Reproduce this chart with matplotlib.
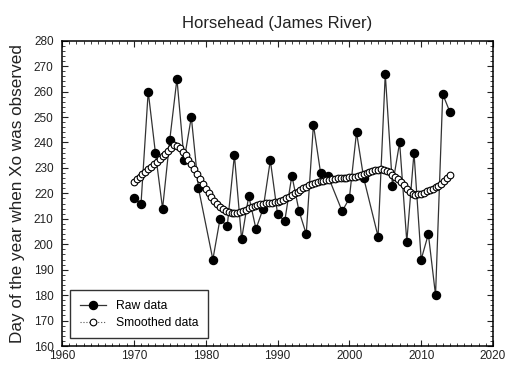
import numpy as np
import matplotlib
matplotlib.use('Agg')
import matplotlib.pyplot as plt
from matplotlib.ticker import MultipleLocator

plt.rcParams['font.family'] = ['Liberation Sans', 'DejaVu Sans']

# Observed day of year (no observations for 1980, 1998, 2003)
raw_years = [1970, 1971, 1972, 1973, 1974, 1975, 1976, 1977, 1978, 1979,
             1981, 1982, 1983, 1984, 1985, 1986, 1987, 1988, 1989, 1990,
             1991, 1992, 1993, 1994, 1995, 1996, 1997, 1999, 2000, 2001,
             2002, 2004, 2005, 2006, 2007, 2008, 2009, 2010, 2011, 2012,
             2013, 2014]
raw_days = [218, 216, 260, 236, 214, 241, 265, 233, 250, 222,
            194, 210, 207, 235, 202, 219, 206, 214, 233, 212,
            209, 227, 213, 204, 247, 228, 227, 213, 218, 244,
            226, 203, 267, 223, 240, 201, 236, 194, 204, 180,
            259, 252]

# Smoothed curve, sampled every 0.4 year from 1970 to 2014
smooth_years = np.arange(1970, 2014.01, 0.4)
smooth_days = [224.5, 225.5, 226.5, 227.5, 228.5, 229.5, 230.5, 231.5, 232.5, 233.5,
               234.5, 235.6, 236.8, 238.0, 238.9, 238.8, 237.8, 236.4, 235.0, 233.3,
               231.5, 229.6, 227.6, 225.6, 223.6, 221.7, 220.0, 218.4, 217.0, 215.7,
               214.6, 213.7, 213.0, 212.5, 212.2, 212.1, 212.2, 212.5, 213.0, 213.5,
               214.1, 214.6, 215.0, 215.4, 215.7, 215.9, 216.1, 216.2, 216.3, 216.5,
               216.8, 217.1, 217.5, 218.0, 218.6, 219.3, 220.0, 220.7, 221.4, 222.0,
               222.6, 223.1, 223.6, 224.0, 224.4, 224.7, 225.0, 225.2, 225.4, 225.6,
               225.8, 225.9, 226.0, 226.1, 226.2, 226.3, 226.4, 226.6, 226.9, 227.2,
               227.6, 228.0, 228.4, 228.8, 229.1, 229.3, 229.4, 229.2, 228.8, 228.2,
               227.4, 226.5, 225.5, 224.4, 223.2, 221.8, 220.6, 219.8, 219.5, 219.6,
               219.9, 220.3, 220.8, 221.3, 221.8, 222.4, 223.0, 223.7, 224.7, 225.9,
               227.3]

fig = plt.figure(figsize=(5.07, 3.65), dpi=100)
ax = fig.add_axes([0.1223, 0.052, 0.8501, 0.8365])

ax.plot(raw_years, raw_days, color='#333333', lw=0.9, marker='o', ms=5.8,
        mfc='black', mec='black', label='Raw data', zorder=2)
ax.plot(smooth_years, smooth_days, color='#555555', lw=0.8, ls=':', marker='o',
        ms=4.8, mfc='white', mec='black', mew=0.8, label='Smoothed data', zorder=3)

ax.set_xlim(1960, 2020)
ax.set_ylim(160, 280)
ax.xaxis.set_major_locator(MultipleLocator(10))
ax.xaxis.set_minor_locator(MultipleLocator(1))
ax.yaxis.set_major_locator(MultipleLocator(10))
ax.yaxis.set_minor_locator(MultipleLocator(2))
ax.tick_params(which='both', direction='in', top=True, right=True,
               labelsize=8.5, colors='#222222')
ax.tick_params(axis='y', pad=6)
ax.tick_params(axis='x', pad=3)
ax.tick_params(which='major', length=4, width=0.8)
ax.tick_params(which='minor', length=2, width=0.6)
for s in ax.spines.values():
    s.set_linewidth(1.1)

ax.set_title('Horsehead (James River)', fontsize=12, pad=9, color='#222222')
ax.set_ylabel('Day of the year when Xo was observed', fontsize=12.3,
              color='#222222', labelpad=6)

leg = ax.legend(loc='lower left', fontsize=8.7, frameon=True, fancybox=False,
                edgecolor='black', handlelength=2.2, borderpad=0.8,
                labelspacing=0.4, bbox_to_anchor=(0.005, 0.005))
leg.get_frame().set_linewidth(1.0)

fig.savefig('out.png', dpi=100)
